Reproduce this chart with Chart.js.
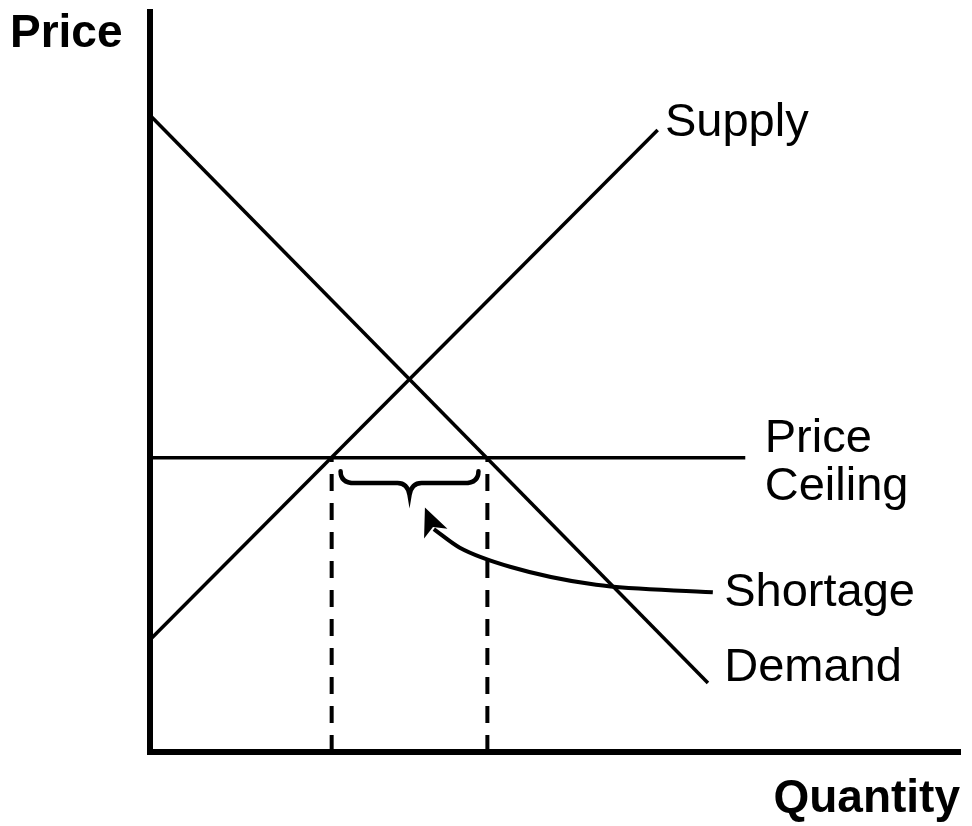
<!DOCTYPE html>
<html>
<head>
<meta charset="utf-8">
<script src="https://cdn.jsdelivr.net/npm/chart.js@4"></script>
<style>
  html, body { margin: 0; padding: 0; background: #fff; }
  #wrap { width: 972px; height: 826px; }
</style>
</head>
<body>
<div id="wrap"><canvas id="myChart"></canvas></div>
<script>
// curves, in quantity / price units (0-100 each)
const demandQ = [0, 68.8];
const demandP = [85.7, 9.3];
const supplyQ = [0, 62.6];
const supplyP = [15.1, 83.7];
const ceilingQ = [0, 73.4];
const ceilingP = 39.6;
const qSupplied = 22.4;
const qDemanded = 41.6;

// shortage brace and arrow
const braceQ = [23.5, 40.5];
const braceP = [37.8, 36.2, 34.6];
const arrowQ = [69.4, 55.0, 44.5, 38.2, 35.0];
const arrowP = [21.5, 22.5, 24.9, 27.5, 30.0];
const arrowTip = [33.9, 32.9];

const labelText = ['Supply', 'Price', 'Ceiling', 'Shortage', 'Demand'];
const labelQ = [63.5, 75.8, 75.8, 70.8, 70.8];
const labelP = [82.9, 40.4, 33.9, 19.7, 9.6];

const pts = (xs, ys) => xs.map((x, i) => ({ x: x, y: ys[i] }));

const extras = {
  id: 'extras',
  afterDatasetsDraw(chart) {
    const c = chart.ctx;
    const sx = chart.scales.x, sy = chart.scales.y;
    const X = v => sx.getPixelForValue(v);
    const Y = v => sy.getPixelForValue(v);
    c.save();
    c.strokeStyle = '#000';
    c.fillStyle = '#000';

    // brace
    const x1 = X(braceQ[0]), x2 = X(braceQ[1]), xm = (x1 + x2) / 2;
    const yt = Y(braceP[0]), ym = Y(braceP[1]), yb = Y(braceP[2]);
    c.lineWidth = 4.5;
    c.lineCap = 'round';
    c.beginPath();
    c.moveTo(x1, yt);
    c.quadraticCurveTo(x1, ym, x1 + 14, ym);
    c.lineTo(xm - 12, ym);
    c.quadraticCurveTo(xm - 2, ym, xm, yb);
    c.quadraticCurveTo(xm + 2, ym, xm + 12, ym);
    c.lineTo(x2 - 14, ym);
    c.quadraticCurveTo(x2, ym, x2, yt);
    c.stroke();

    // arrow head
    const tx = X(arrowTip[0]), ty = Y(arrowTip[1]);
    const n = arrowQ.length;
    const bx = X(arrowQ[n - 1]), by = Y(arrowP[n - 1]);
    const ang = Math.atan2(ty - by, tx - bx);
    const len = 31, half = 0.42;
    c.beginPath();
    c.moveTo(tx, ty);
    c.lineTo(tx - len * Math.cos(ang - half), ty - len * Math.sin(ang - half));
    c.lineTo(tx - len * 0.68 * Math.cos(ang), ty - len * 0.68 * Math.sin(ang));
    c.lineTo(tx - len * Math.cos(ang + half), ty - len * Math.sin(ang + half));
    c.closePath();
    c.fill();

    // labels
    c.textAlign = 'left';
    c.textBaseline = 'alphabetic';
    c.font = '47px "Liberation Sans", Arial, sans-serif';
    labelText.forEach((t, i) => c.fillText(t, X(labelQ[i]), Y(labelP[i])));

    // axis titles
    c.font = 'bold 46px "Liberation Sans", Arial, sans-serif';
    c.fillText('Price', 10, chart.chartArea.top + 38);
    c.textAlign = 'right';
    c.fillText('Quantity', chart.chartArea.right - 1, chart.chartArea.bottom + 60);
    c.restore();
  }
};

new Chart(document.getElementById('myChart'), {
  type: 'scatter',
  data: {
    datasets: [
      { data: pts([0, 0, 100], [100, 0, 0]), borderWidth: 6, borderJoinStyle: 'miter' },
      { data: pts(demandQ, demandP), borderWidth: 3.5 },
      { data: pts(supplyQ, supplyP), borderWidth: 3.5 },
      { data: pts(ceilingQ, [ceilingP, ceilingP]), borderWidth: 3.5 },
      { data: pts([qSupplied, qSupplied], [0, ceilingP]), borderWidth: 4, borderDash: [17, 12] },
      { data: pts([qDemanded, qDemanded], [0, ceilingP]), borderWidth: 4, borderDash: [17, 12] },
      { data: pts(arrowQ, arrowP), borderWidth: 4, cubicInterpolationMode: 'monotone' }
    ].map(d => Object.assign({
      showLine: true,
      borderColor: '#000',
      pointRadius: 0,
      clip: false
    }, d))
  },
  options: {
    responsive: true,
    maintainAspectRatio: false,
    animation: false,
    layout: { padding: { left: 150, right: 11, top: 9, bottom: 74 } },
    plugins: { legend: { display: false }, tooltip: { enabled: false } },
    scales: {
      x: { type: 'linear', min: 0, max: 100, display: false },
      y: { type: 'linear', min: 0, max: 100, display: false }
    }
  },
  plugins: [extras]
});
</script>
</body>
</html>
